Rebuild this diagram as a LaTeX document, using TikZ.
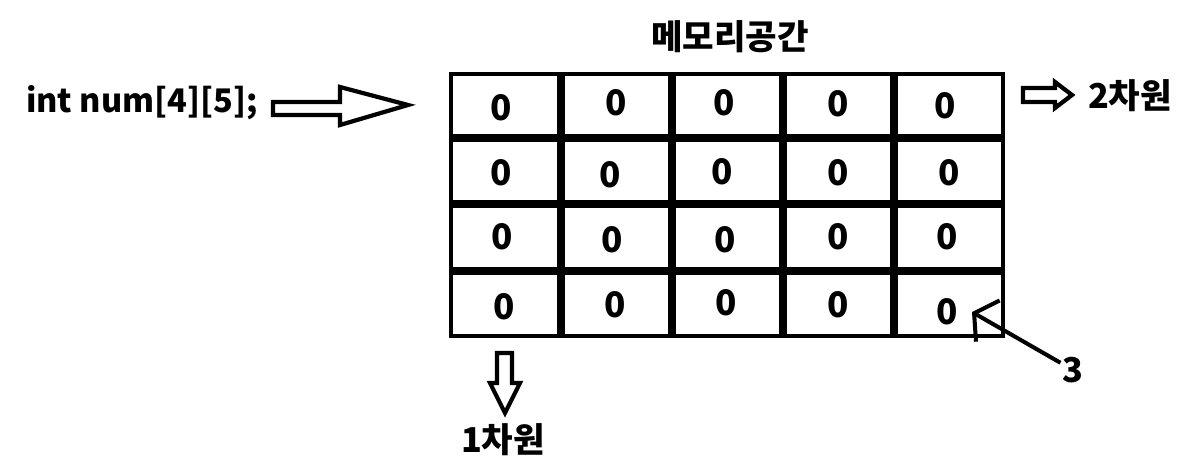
\documentclass[tikz,border=0pt]{standalone}
\usepackage{fontspec}
\setmainfont{Noto Sans CJK KR}
\usetikzlibrary{arrows.meta}

\begin{document}
\begin{tikzpicture}[x=0.02cm, y=-0.02cm,
  tekst/.style={font=\bfseries\fontsize{19.5}{21}\selectfont, inner sep=1pt},
  nul/.style={font=\bfseries\fontsize{20}{22}\selectfont, inner sep=0pt},
  blokpil/.style={line width=2.4pt, line join=miter, fill=white},
  peger/.style={line width=2.3pt, -{Straight Barb[length=9pt,width=27pt]}}]
  \useasboundingbox (0,0) rectangle (1184,469);
  % === Tittel og deklarasjon ===
  \node[tekst] (tittel) at (730,37) {메모리공간};
  \node[tekst, anchor=west, font=\bfseries\fontsize{18.5}{20}\selectfont]
    (dekl) at (24,103) {int num[4][5];};
  % hul pil mot tabellen
  \draw[blokpil] (273,102) -- (340,102) -- (340,87) -- (408,105)
    -- (340,125) -- (340,115) -- (273,115) -- cycle;
  % === Tabellen 4x5 ===
  \draw[line width=4.8pt] (561,74) -- (561,336) (672,74) -- (672,336)
    (783,74) -- (783,336) (894,74) -- (894,336);
  \draw[line width=4.8pt] (451,138) -- (1003,138) (451,204) -- (1003,204)
    (451,271) -- (1003,271);
  \draw[line width=2.8pt] (451,74) rectangle (1003,336);
  % nullene (litt skjeve, som i skissen)
  \foreach \r/\c/\px/\py in {1/1/501/108, 1/2/616/103, 1/3/724/103, 1/4/838/104, 1/5/945/106,
    2/1/501/173, 2/2/610/175, 2/3/722/172, 2/4/838/173, 2/5/949/173,
    3/1/502/237, 3/2/612/240, 3/3/725/240, 3/4/838/237, 3/5/947/237,
    4/1/504/307, 4/2/615/305, 4/3/726/303, 4/4/838/305, 4/5/947/312}
    \node[nul] (c\r\c) at (\px,\py) {0};
  % === 2. dimensjon (kolonner) ===
  \draw[blokpil] (1023,88) -- (1055,88) -- (1055,82) -- (1072,95)
    -- (1055,108) -- (1055,102) -- (1023,102) -- cycle;
  \node[tekst, anchor=west] (dim2) at (1086,96) {2차원};
  % === 1. dimensjon (rader) ===
  \draw[blokpil] (497,353) -- (497,383) -- (490,383) -- (505,413)
    -- (520,383) -- (512,383) -- (512,353) -- cycle;
  \node[tekst] (dim1) at (503,440) {1차원};
  % === Peker til siste element ===
  \coordinate (spiss) at (972,312);
  \node[tekst] (tre) at (1073,370) {3};
  \draw[peger] (tre) -- (spiss);
\end{tikzpicture}
\end{document}
